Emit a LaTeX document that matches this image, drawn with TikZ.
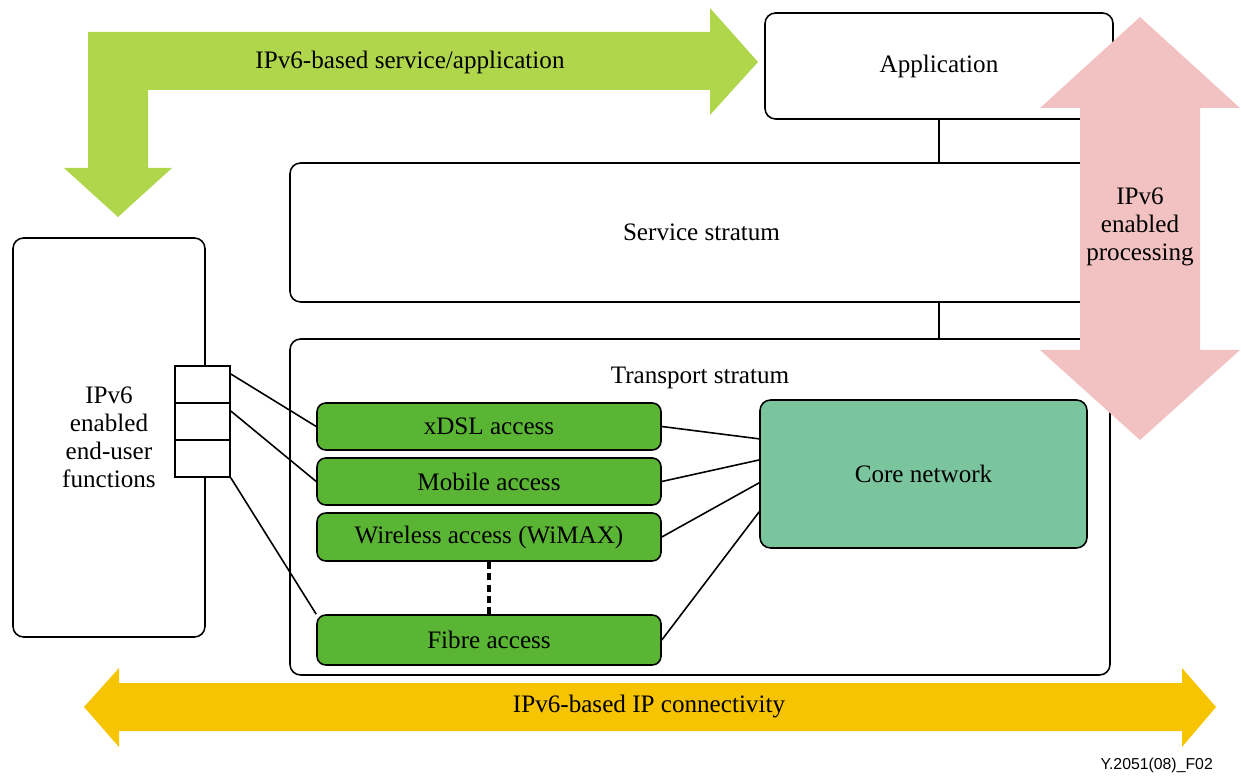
\documentclass[tikz,border=0pt]{standalone}
\usepackage{fontspec}
\setmainfont{Liberation Serif}
\newfontfamily\figlabelfont{Liberation Sans}
\usepackage{tikz}
\usetikzlibrary{fit}

\definecolor{servicegreen}{RGB}{176,214,76}
\definecolor{procpink}{RGB}{242,194,194}
\definecolor{connyellow}{RGB}{246,196,0}
\definecolor{accessgreen}{RGB}{91,181,53}
\definecolor{coregreen}{RGB}{122,196,158}

\begin{document}
\begin{tikzpicture}[x=0.02cm, y=-0.02cm,
        font=\fontsize{14.3}{16}\selectfont,
        box/.style = {draw, line width=0.9pt, rounded corners=6pt, inner sep=0pt},
        accessbox/.style = {box, fill=accessgreen, rounded corners=5pt},
        portbox/.style = {draw, line width=0.9pt, fill=white, inner sep=0pt},
        inside/.style = {label={[align=center]center:#1}},
        link/.style = {line width=0.9pt}]
                \useasboundingbox (0,0) rectangle (1241,776);

                % Service/application arrow (L-shaped)
                \fill[servicegreen] (88,168) -- (64,168) -- (118,217) -- (172,168) -- (148,168) -- (148,90)
                        -- (710,90) -- (710,115) -- (758,62) -- (710,8) -- (710,32) -- (88,32) -- cycle;
                \node (servtxt) at (410,62) {IPv6-based service/application};

                % Strata
                \node[box, fit={(765,13) (1113,119)}, inside=Application] (app) {};
                \node[box, fit={(290,163) (1113,302)}, inside=Service stratum] (service) {};
                \node[box, fit={(290,339) (1110,675)}] (transport) {};
                \node (transtxt) at (700,378) {Transport stratum};
                \draw[link] (app.south) -- (service.north -| app.south);
                \draw[link] (service.south -| app.south) -- (transport.north -| app.south);

                % End-user functions with three ports
                \node[box, fit={(13,238) (205,637)}, inside={IPv6\\enabled\\end-user\\functions}] (enduser) {};
                \node[portbox, fit={(175,366) (230,403)}] (p1) {};
                \node[portbox, fit={(175,403) (230,440)}] (p2) {};
                \node[portbox, fit={(175,440) (230,477)}] (p3) {};

                % Access networks
                \node[accessbox, fit={(317,403) (661,450)}, inside=xDSL access] (xdsl) {};
                \node[accessbox, fit={(317,458) (661,505)}, inside=Mobile access] (mobile) {};
                \node[accessbox, fit={(317,513) (661,561)}, inside=Wireless access (WiMAX)] (wireless) {};
                \node[accessbox, fit={(317,615) (661,665)}, inside=Fibre access] (fibre) {};
                \draw[line width=1.8pt, dash pattern=on 4pt off 2.5pt] (wireless.south) -- (fibre.north);

                % Core network
                \node[box, fill=coregreen, fit={(760,400) (1087,548)}, inside=Core network] (core) {};

                % Port links
                \draw[link] ([yshift=-5pt]p1.north east) -- (xdsl.west);
                \draw[link] ([yshift=-5pt]p2.north east) -- (mobile.west);
                \draw[link] (p3.south east) -- (fibre.north west);

                % Core links
                \draw[link] (xdsl.east) -- ([yshift=20pt]core.west);
                \draw[link] (mobile.east) -- ([yshift=8pt]core.west);
                \draw[link] (wireless.east) -- ([yshift=-5pt]core.west);
                \draw[link] (fibre.east) -- ([yshift=-21.5pt]core.west);

                % Processing arrow (double)
                \fill[procpink] (1080,108) -- (1040,108) -- (1140,17) -- (1240,108) -- (1200,108) -- (1200,350)
                        -- (1240,350) -- (1140,440) -- (1040,350) -- (1080,350) -- cycle;
                \node[align=center] (proctxt) at (1140,227) {IPv6\\enabled\\processing};

                % IP connectivity arrow (double)
                \fill[connyellow] (84,707) -- (119,668) -- (119,683) -- (1182,683) -- (1182,668) -- (1216,707)
                        -- (1182,747) -- (1182,731) -- (119,731) -- (119,747) -- cycle;
                \node (conntxt) at (649,706) {IPv6-based IP connectivity};

                % Figure label
                \node[font=\figlabelfont\fontsize{9}{10}\selectfont, anchor=east] (figlabel) at (1219,765) {Y.2051(08)\_F02};
\end{tikzpicture}
\end{document}
